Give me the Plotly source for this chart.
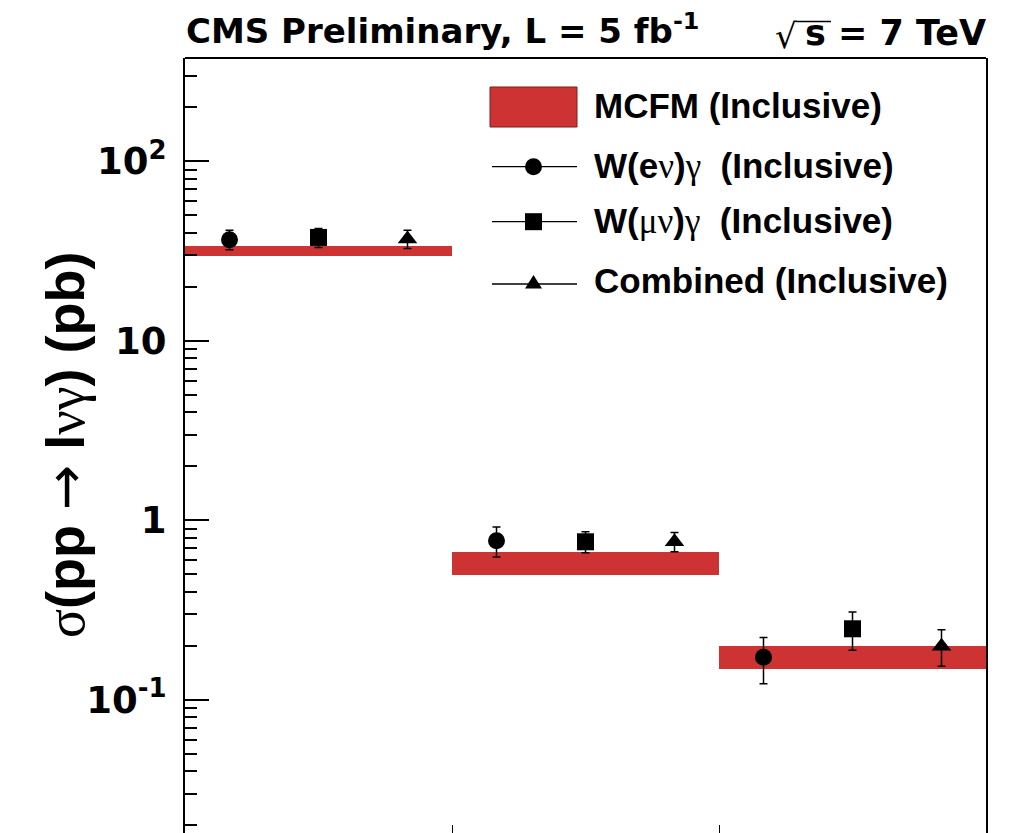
import plotly.graph_objects as go

# ---------------- data ----------------
bins_lo = [0, 1, 2]
bins_hi = [1, 2, 3]
offsets = [1/6, 0.5, 5/6]            # position of e, mu, combined inside each bin

mcfm_lo = [29.9, 0.498, 0.1486]
mcfm_hi = [33.6, 0.663, 0.2004]

e_val = [36.6, 0.77, 0.173]
e_up = [4.7, 0.15, 0.050]
e_dn = [4.4, 0.145, 0.050]

mu_val = [37.7, 0.76, 0.249]
mu_up = [4.6, 0.105, 0.060]
mu_dn = [4.6, 0.100, 0.060]

comb_val = [37.0, 0.76, 0.199]
comb_up = [4.3, 0.097, 0.047]
comb_dn = [4.3, 0.091, 0.045]

ytick_vals = [0.1, 1, 10, 100]
ytick_text = ["10<sup>-1</sup>", "1", "10", "10<sup>2</sup>"]

GREEK = "<span style='font-family:Liberation Serif;font-weight:normal'>{}</span>"
legend_labels = [
    "MCFM (Inclusive)",
    "W(e" + GREEK.format("ν") + ")" + GREEK.format("γ") + "  (Inclusive)",
    "W(" + GREEK.format("μν") + ")" + GREEK.format("γ") + "  (Inclusive)",
    "Combined (Inclusive)",
]
title_left = "CMS Preliminary, L = 5 fb<sup>-1</sup>"
title_right = "s = 7 TeV"
ytitle = (GREEK.format("σ") + "(pp "
          + "<span style='font-family:DejaVu Sans;font-weight:normal'>→</span>"
          + " l" + GREEK.format("νγ") + ") (pb)")

RED = "#CD3333"

# ---------------- geometry ----------------
W, H = 1020, 833
X0, X1 = 185, 986
Y0, Y1 = 58, 833


def px(x):
    return (x - X0) / (X1 - X0)


def py(y):
    return (Y1 - y) / (Y1 - Y0)


fig = go.Figure()

# MCFM bands
fig.add_trace(go.Bar(
    x=[(a + b) / 2 for a, b in zip(bins_lo, bins_hi)],
    y=[h - l for l, h in zip(mcfm_lo, mcfm_hi)],
    base=mcfm_lo,
    width=[b - a for a, b in zip(bins_lo, bins_hi)],
    marker=dict(color=RED, line=dict(width=0)),
    showlegend=False,
))


def pts(val, up, dn, k, symbol, size):
    xs = [lo + offsets[k] for lo in bins_lo]
    fig.add_trace(go.Scatter(
        x=xs, y=val, mode="markers",
        marker=dict(symbol=symbol, size=size, color="black", line=dict(width=0)),
        error_y=dict(type="data", symmetric=False, array=up, arrayminus=dn,
                     width=4, thickness=1.5, color="black"),
        showlegend=False,
    ))


pts(e_val, e_up, e_dn, 0, "circle", 17)
pts(mu_val, mu_up, mu_dn, 1, "square", 17)
pts(comb_val, comb_up, comb_dn, 2, "triangle-up", 17)

minor_vals = [m * 10.0 ** d for d in range(-2, 3) for m in range(2, 10)]

fig.update_layout(
    width=W, height=H,
    margin=dict(l=X0, r=W - X1, t=Y0, b=H - Y1),
    paper_bgcolor="white", plot_bgcolor="white",
    showlegend=False,
    bargap=0,
    xaxis=dict(range=[0, 3], showgrid=False, zeroline=False, showline=False,
               tickmode="array", tickvals=[1, 2], ticks="inside", ticklen=8,
               tickwidth=1, tickcolor="black", showticklabels=False),
    yaxis=dict(type="log", range=[-1.7415, 2.576], showgrid=False, zeroline=False,
               showline=True, linecolor="black", linewidth=2, mirror=True,
               tickmode="array", tickvals=ytick_vals, ticktext=ytick_text,
               ticks="inside", ticklen=24, tickwidth=1.5, tickcolor="black",
               ticklabelstandoff=9,
               tickfont=dict(family="DejaVu Sans", size=37, color="black", weight="bold"),
               minor=dict(tickmode="array", tickvals=minor_vals, ticks="inside",
                          ticklen=12, tickwidth=1.5, tickcolor="black", showgrid=False)),
)

shapes = []
# top frame line
shapes.append(dict(type="line", xref="paper", yref="paper", x0=0, x1=1, y0=1, y1=1,
                   line=dict(color="black", width=2)))

# legend glyphs
shapes.append(dict(type="rect", xref="paper", yref="paper",
                   x0=px(490), x1=px(577), y0=py(127), y1=py(87),
                   fillcolor=RED, line=dict(color="#7a2020", width=1)))
row_y = [166.7, 221.7, 284]
for yy in row_y:
    shapes.append(dict(type="line", xref="paper", yref="paper",
                       x0=px(492), x1=px(577), y0=py(yy), y1=py(yy),
                       line=dict(color="black", width=1.3)))
mx = 533.5
shapes.append(dict(type="circle", xref="paper", yref="paper",
                   x0=px(mx - 8.5), x1=px(mx + 8.5), y0=py(166.7 + 8.5), y1=py(166.7 - 8.5),
                   fillcolor="black", line=dict(width=0)))
shapes.append(dict(type="rect", xref="paper", yref="paper",
                   x0=px(mx - 8.5), x1=px(mx + 8.5), y0=py(221.7 + 8.5), y1=py(221.7 - 8.5),
                   fillcolor="black", line=dict(width=0)))
shapes.append(dict(type="path", xref="paper", yref="paper",
                   path="M {a},{b} L {c},{b} L {d},{e} Z".format(
                       a=px(mx - 8.5), b=py(288.5), c=px(mx + 8.5), d=px(mx), e=py(275)),
                   fillcolor="black", line=dict(width=0)))

# overline of the square root
shapes.append(dict(type="line", xref="paper", yref="paper",
                   x0=px(796), x1=px(831), y0=py(21.5), y1=py(21.5),
                   line=dict(color="black", width=1.3)))
fig.update_layout(shapes=shapes)

ann = []
text_rows = [105, 166, 221, 280]
for lab, yy in zip(legend_labels, text_rows):
    ann.append(dict(x=px(592), y=py(yy), xref="paper", yref="paper", text=lab,
                    xanchor="left", yanchor="middle", showarrow=False,
                    font=dict(family="Liberation Sans", size=35, color="black", weight="bold")))

ann.append(dict(x=px(184), y=py(29), xref="paper", yref="paper",
                text=title_left,
                xanchor="left", yanchor="middle", showarrow=False,
                font=dict(family="DejaVu Sans", size=34, color="black", weight="bold")))
ann.append(dict(x=px(988), y=py(33), xref="paper", yref="paper",
                text=title_right,
                xanchor="right", yanchor="middle", showarrow=False,
                font=dict(family="DejaVu Sans", size=35, color="black", weight="bold")))
ann.append(dict(x=px(799), y=py(36), xref="paper", yref="paper",
                text="√",
                xanchor="right", yanchor="middle", showarrow=False,
                font=dict(family="DejaVu Sans", size=34, color="black", weight="normal")))
ann.append(dict(x=px(65), y=py(445), xref="paper", yref="paper",
                text=ytitle,
                textangle=-90, xanchor="center", yanchor="middle", showarrow=False,
                font=dict(family="Liberation Sans", size=54, color="black", weight="bold")))
fig.update_layout(annotations=ann)

fig.write_html("out.html")
